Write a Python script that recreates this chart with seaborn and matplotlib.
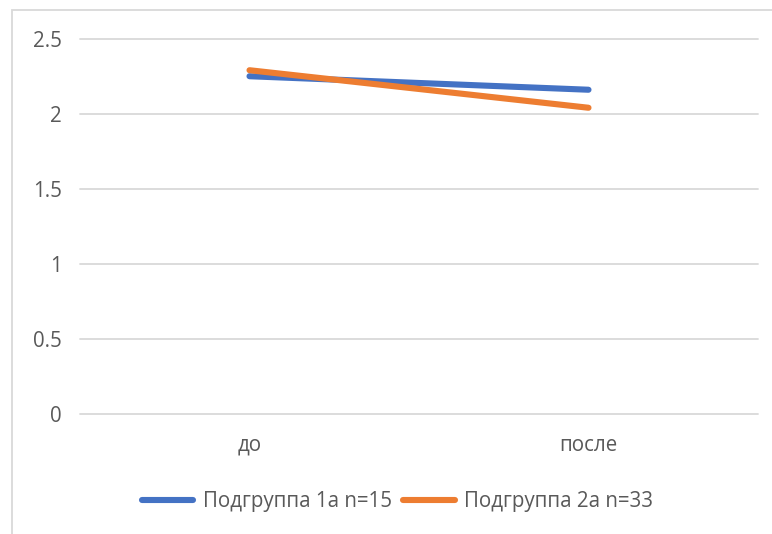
import matplotlib
matplotlib.use("Agg")
import matplotlib.pyplot as plt
from matplotlib.patches import Rectangle
import pandas as pd
import seaborn as sns

# Data
periods = ["до", "после"]
group_1a = [2.25, 2.16]
group_2a = [2.29, 2.04]
series_names = ["Подгруппа 1а n=15", "Подгруппа 2а n=33"]
y_ticks = [0, 0.5, 1, 1.5, 2, 2.5]
y_tick_labels = ["0", "0.5", "1", "1.5", "2", "2.5"]

df = pd.DataFrame({
    "period": periods * 2,
    "value": group_1a + group_2a,
    "group": [series_names[0]] * len(periods) + [series_names[1]] * len(periods),
})
df["x"] = df["period"].map({p: i for i, p in enumerate(periods)})

sns.set_theme(style="white")
plt.rcParams["font.family"] = ["Open Sans", "DejaVu Sans"]
text_color = "#595959"
grid_color = "#d9d9d9"
fs = 14.8

W, H = 772, 534
fig = plt.figure(figsize=(W / 100, H / 100), dpi=100)
ax = fig.add_axes([80 / W, 120 / H, (758 - 80) / W, (414 - 38.7) / H])

sns.lineplot(
    data=df, x="x", y="value", hue="group",
    palette=["#4472C4", "#ED7D31"], linewidth=4.4,
    ax=ax, legend=True, sort=False,
    solid_capstyle="round",
)
for line in ax.get_lines():
    line.set_solid_capstyle("round")

ax.set_xlim(-0.5, 1.5)
ax.set_ylim(0, 2.5)
ax.set_xticks(range(len(periods)))
ax.set_xticklabels(periods)
ax.set_yticks(y_ticks)
ax.set_yticklabels(y_tick_labels)
ax.set_xlabel("")
ax.set_ylabel("")

for y in y_ticks:
    ax.axhline(y, color=grid_color, linewidth=1.3, zorder=0, clip_on=False)

for s in ax.spines.values():
    s.set_visible(False)
ax.tick_params(axis="y", length=0, pad=13, labelsize=fs, labelcolor=text_color)
ax.tick_params(axis="x", length=0, pad=15, labelsize=fs, labelcolor=text_color)

handles, labels = ax.get_legend_handles_labels()
ax.legend_.remove()
for h in handles:
    h.set_linewidth(4.4)
    h.set_solid_capstyle("round")
leg = fig.legend(
    handles, labels, loc="center", bbox_to_anchor=(397.5 / W, 1 - 502 / H),
    ncol=2, frameon=False, fontsize=fs, handlelength=2.5,
    handletextpad=0.44, columnspacing=0.58,
)
for t in leg.get_texts():
    t.set_color(text_color)

# chart area border
fig.add_artist(Rectangle((12.5 / W, -0.1), 1.2, 1 - 9.5 / H + 0.1,
                         transform=fig.transFigure, fill=False,
                         edgecolor=grid_color, linewidth=1.3))

fig.savefig("out.png", dpi=100, facecolor="white")
